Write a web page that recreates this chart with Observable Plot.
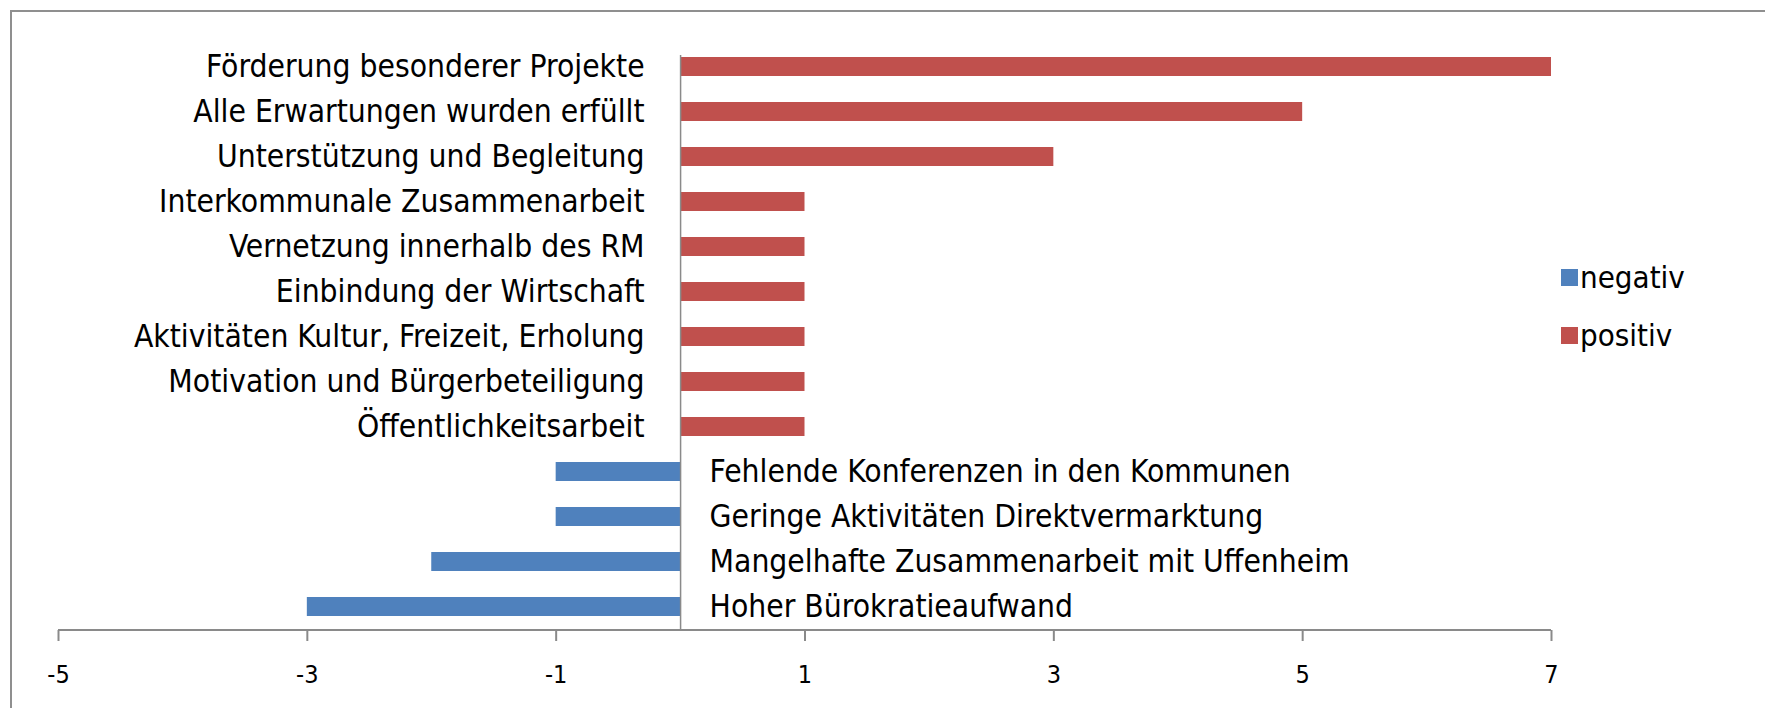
<!DOCTYPE html>
<html>
<head>
<meta charset="utf-8">
<script src="https://cdn.jsdelivr.net/npm/d3@7"></script>
<script src="https://cdn.jsdelivr.net/npm/@observablehq/plot@0.6"></script>
<style>
  html, body { margin: 0; padding: 0; background: #fff; }
  #wrap { position: relative; width: 1765px; height: 708px; overflow: hidden; }
  #frame { position: absolute; left: 10px; top: 10px; width: 1800px; height: 760px;
           border-top: 2px solid #8f8f8f; border-left: 2px solid #8f8f8f; box-sizing: border-box; }
  #chart { position: absolute; left: 0; top: 0; }
  .lg { position: absolute; left: 1561px; font: 31px "Liberation Sans Narrow", "Arial Narrow", "DejaVu Sans Condensed", sans-serif; color: #000; display: flex; align-items: center; line-height: 1; }
  .lg span.sw { display: inline-block; width: 17px; height: 17px; margin-right: 2px; }
</style>
</head>
<body>
<div id="wrap">
  <div id="frame"></div>
  <div id="chart"></div>
</div>
<script>
const categories = [
  "Förderung besonderer Projekte",
  "Alle Erwartungen wurden erfüllt",
  "Unterstützung und Begleitung",
  "Interkommunale Zusammenarbeit",
  "Vernetzung innerhalb des RM",
  "Einbindung der Wirtschaft",
  "Aktivitäten Kultur, Freizeit, Erholung",
  "Motivation und Bürgerbeteiligung",
  "Öffentlichkeitsarbeit",
  "Fehlende Konferenzen in den Kommunen",
  "Geringe Aktivitäten Direktvermarktung",
  "Mangelhafte Zusammenarbeit mit Uffenheim",
  "Hoher Bürokratieaufwand"
];
const values = [7, 5, 3, 1, 1, 1, 1, 1, 1, -1, -1, -2, -3];
const seriesNames = ["negativ", "positiv"];
const seriesColors = ["#4F81BD", "#C0504D"];
const xTicks = [-5, -3, -1, 1, 3, 5, 7];

const data = categories.map((c, i) => ({
  category: c,
  value: values[i],
  series: values[i] < 0 ? "negativ" : "positiv"
}));

const font = '"Liberation Sans Narrow", "Arial Narrow", "DejaVu Sans Condensed", sans-serif';

const chart = Plot.plot({
  width: 1765,
  height: 708,
  marginLeft: 58,
  marginRight: 214,
  marginTop: 42,
  marginBottom: 78,
  style: { fontFamily: font, background: "transparent", overflow: "visible" },
  x: { domain: [-5, 7], ticks: xTicks, label: null },
  y: { domain: categories, paddingInner: 0.58, paddingOuter: 0.28, axis: null },
  color: { domain: seriesNames, range: seriesColors },
  marks: [
    Plot.barX(data, { y: "category", x: "value", fill: "series" }),
    Plot.ruleX([0], { stroke: "#8a8a8a", strokeWidth: 1.5, insetTop: 13 }),
    Plot.axisX({ ticks: xTicks, tickSize: 11, tickPadding: 24, stroke: "#8a8a8a", strokeWidth: 2, fontSize: 25, fill: "#000", label: null, tickFormat: d => String(d) }),
    Plot.text(data.filter(d => d.value >= 0), { y: "category", x: 0, text: "category", textAnchor: "end", dx: -36, fontSize: 31.5, fill: "#000" }),
    Plot.text(data.filter(d => d.value < 0), { y: "category", x: 0, text: "category", textAnchor: "start", dx: 29, fontSize: 31.5, fill: "#000" })
  ]
});
document.getElementById("chart").appendChild(chart);

// x axis baseline across the domain
const xs = chart.scale("x");
d3.select(chart).append("line")
  .attr("x1", xs.apply(-5)).attr("x2", xs.apply(7))
  .attr("y1", 708 - 78).attr("y2", 708 - 78)
  .attr("stroke", "#8a8a8a").attr("stroke-width", 2);

// legend
const wrap = document.getElementById("wrap");
const legendTops = [262, 320];
seriesNames.forEach((name, i) => {
  const d = document.createElement("div");
  d.className = "lg";
  d.style.top = legendTops[i] + "px";
  d.innerHTML = `<span class="sw" style="background:${seriesColors[i]}"></span>${name}`;
  wrap.appendChild(d);
});
</script>
</body>
</html>
